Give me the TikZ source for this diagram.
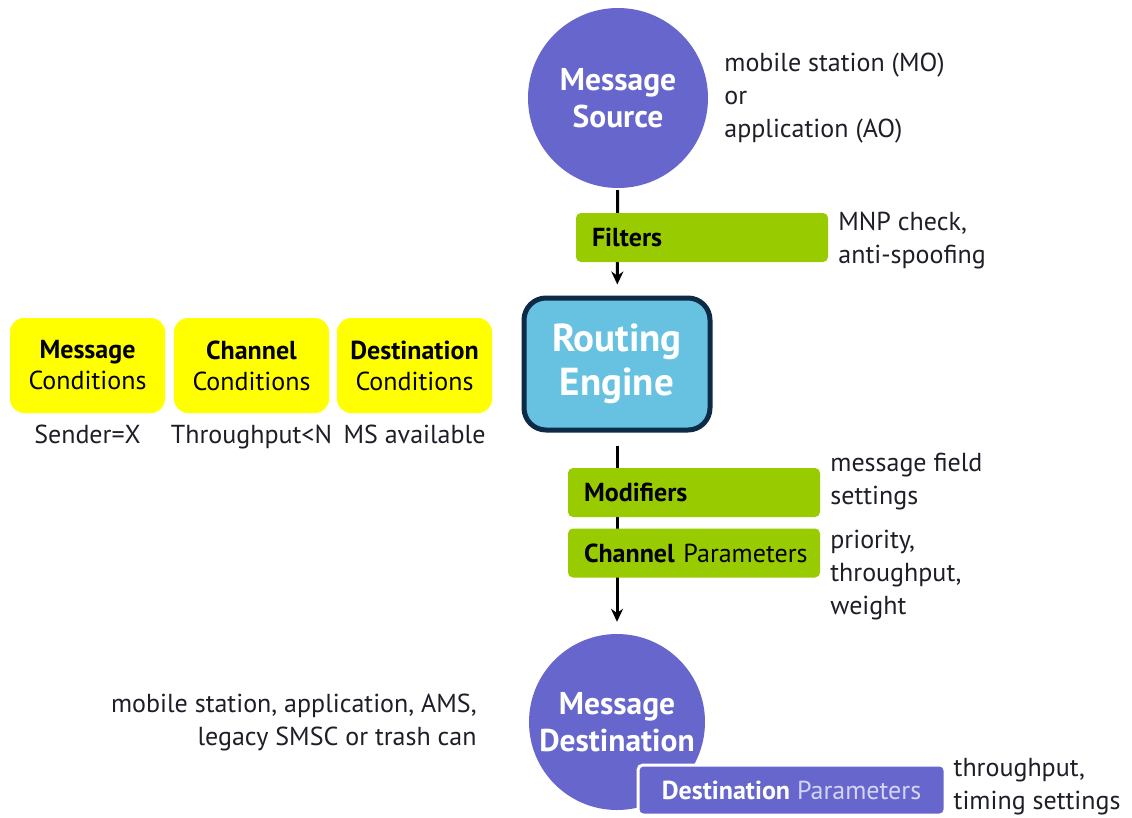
\documentclass[tikz,border=0pt]{standalone}
\usepackage{fontspec}
\setmainfont{PT Sans}
\usetikzlibrary{positioning,arrows.meta,backgrounds}
\definecolor{srcpurple}{HTML}{6666CC}
\definecolor{parlav}{HTML}{D4D4F4}
\definecolor{grn}{HTML}{99CC00}
\definecolor{yel}{HTML}{FFFF00}
\definecolor{engblue}{HTML}{66C2E0}
\definecolor{navy}{HTML}{0D2A47}
\definecolor{lbltext}{HTML}{1E1E28}
\begin{document}
\begin{tikzpicture}[x=1pt,y=-1pt,line join=round,
  font=\fontsize{26}{33}\selectfont,
  lbl/.style={inner sep=2pt,align=left,text=lbltext},
  circ/.style={circle,fill=srcpurple,text=white,inner sep=0pt,align=center,
    font=\fontsize{31.5}{37}\selectfont\bfseries},
  gbox/.style={fill=grn,rounded corners=5pt,minimum height=49pt,text width=226pt,
    inner xsep=13pt,align=left,text=black},
  ybox/.style={fill=yel,rounded corners=14pt,minimum width=155pt,minimum height=95pt,
    inner sep=0pt,align=center,text=black,font=\fontsize{26}{31}\selectfont},
  flow/.style={line width=3pt,-{Stealth[length=13pt,width=12pt]}}]
\useasboundingbox (0,0) rectangle (1132,817);

% source and engine
\node[circ,minimum size=180pt] (src) at (618,98) {Message\\Source};
\node[lbl,right=14pt of src] (srclbl) {mobile station (MO)\\or\\application (AO)};
\node[draw=navy,line width=5pt,fill=engblue,rounded corners=22pt,minimum width=186pt,
  minimum height=132pt,text=white,align=center,font=\fontsize{39}{44}\selectfont\bfseries]
  (eng) at (617,364) {Routing\\Engine};

\node[gbox] (filt) at (702,237.5) {\hspace*{3pt}\textbf{Filters}};
\node[lbl,right=8pt of filt,yshift=-3pt] (filtlbl) {MNP check,\\anti-spoofing};

% conditions
\node[ybox] (mc) at (87.5,365.5) {\textbf{Message}\\Conditions};
\node[ybox] (cc) at (251.5,365.5) {\textbf{Channel}\\Conditions};
\node[ybox] (dc) at (414.5,365.5) {\textbf{Destination}\\Conditions};
\node[lbl,below=10pt of mc,align=center] {Sender=X};
\node[lbl,below=10pt of cc,align=center] {Throughput<N};
\node[lbl,below=10pt of dc,align=center] {MS available};

% modifiers and parameters
\node[gbox] (mod) at (694,492.5) {\hspace*{3pt}\textbf{Modifiers}};
\node[lbl,right=8pt of mod,yshift=11pt] {message field\\settings};
\node[gbox] (chp) at (694,553) {\hspace*{3pt}\mbox{\textbf{Channel} Parameters}};
\node[lbl,right=8pt of chp,yshift=-22pt] {priority,\\throughput,\\weight};

% destination
\node[circ,minimum size=176pt] (dst) at (617,722) {Message\\Destination};
\node[lbl,left=50pt of dst,align=right] {mobile station, application, AMS,\\legacy SMSC or trash can};
\node[fill=srcpurple,draw=white,line width=3pt,rounded corners=5pt,minimum width=307pt,
  minimum height=50pt,text=white] (dpar) at (791.5,790)
  {\textbf{Destination} \textcolor{parlav}{Parameters}};
\node[lbl,right=5pt of dpar,yshift=3pt] {throughput,\\timing settings};

\begin{scope}[on background layer]
\draw[flow,shorten <=2pt,shorten >=11pt] (src) -- (eng);
\draw[flow,shorten <=13pt,shorten >=12pt] (eng) -- (dst);
\end{scope}
\end{tikzpicture}
\end{document}
